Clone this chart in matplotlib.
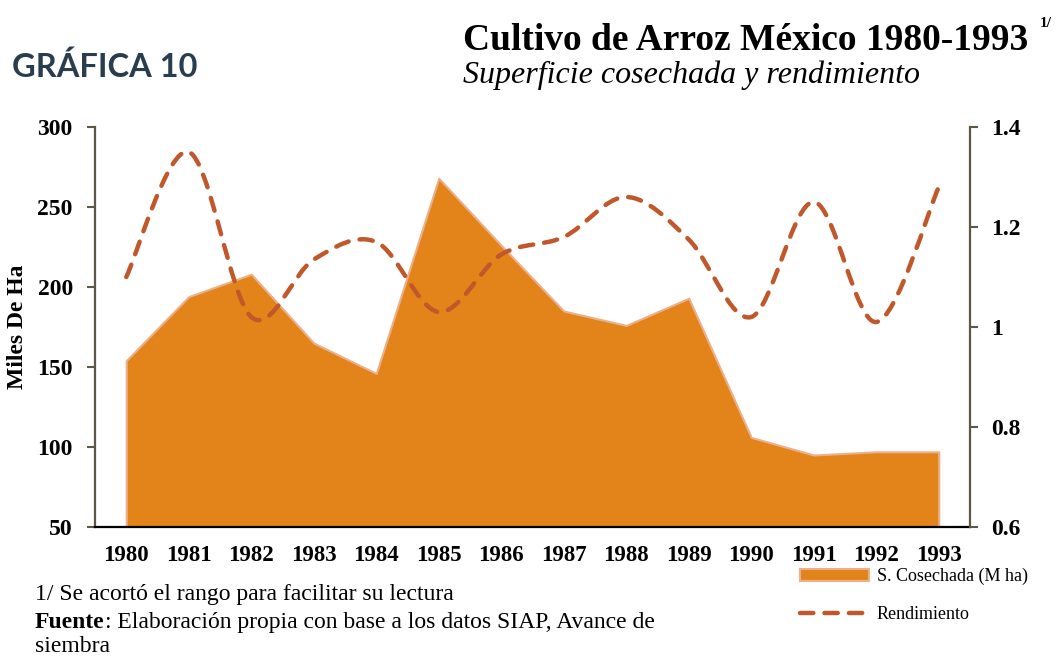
import matplotlib
matplotlib.use('Agg')
import matplotlib.pyplot as plt
from matplotlib.path import Path
from matplotlib.patches import PathPatch
from matplotlib.lines import Line2D
import numpy as np

# datos
years = ['1980', '1981', '1982', '1983', '1984', '1985', '1986',
         '1987', '1988', '1989', '1990', '1991', '1992', '1993']
superficie = [154, 194, 208, 165, 146, 268, 226, 185, 176, 193, 106, 95, 97, 97]
rendimiento = [1.10, 1.35, 1.02, 1.135, 1.17, 1.03, 1.145, 1.18, 1.26, 1.175,
               1.02, 1.25, 1.01, 1.28]

left_ticks = [50, 100, 150, 200, 250, 300]
right_ticks = [0.6, 0.8, 1.0, 1.2, 1.4]
right_labels = ['0.6', '0.8', '1', '1.2', '1.4']

AREA = '#E3841A'
AREA_EDGE = '#EBB08C'
LINE = '#C0582B'
SPINE = '#5E5646'
SERIF = 'Liberation Serif'
DASH = (0, (3.0, 2.5))


def smooth_path(xs, ys):
    # linea suavizada tipo Excel (bezier por los puntos)
    pts = np.column_stack([xs, ys]).astype(float)
    n = len(pts)
    verts = [pts[0]]
    codes = [Path.MOVETO]
    for i in range(n - 1):
        p0 = pts[max(i - 1, 0)]
        p1 = pts[i]
        p2 = pts[i + 1]
        p3 = pts[min(i + 2, n - 1)]
        verts += [p1 + (p2 - p0) / 6.0, p2 - (p3 - p1) / 6.0, p2]
        codes += [Path.CURVE4] * 3
    return Path(verts, codes)


fig = plt.figure(figsize=(10.57, 6.56), dpi=100)
ax = fig.add_axes([95 / 1057, 1 - 527 / 656, 875 / 1057, 400 / 656])
ax2 = ax.twinx()

x = np.arange(len(years))
area = ax.fill_between(x, 0, superficie, facecolor=AREA, edgecolor=AREA_EDGE,
                       linewidth=1.5, label='S. Cosechada (M ha)', zorder=2)

path = smooth_path(x, rendimiento)
patch = PathPatch(path, fill=False, edgecolor=LINE, linewidth=3.2,
                  linestyle=DASH, capstyle='round', zorder=3)
ax2.add_patch(patch)

ax.set_xlim(-0.5, len(years) - 0.5)
ax.set_ylim(50, 300)
ax2.set_ylim(0.6, 1.4)

ax.set_xticks(x)
ax.set_xticklabels(years, fontfamily=SERIF, fontweight='bold', fontsize=16.5)
ax.set_yticks(left_ticks)
ax.set_yticklabels([str(v) for v in left_ticks], fontfamily=SERIF,
                   fontweight='bold', fontsize=17)
ax2.set_yticks(right_ticks)
ax2.set_yticklabels(right_labels, fontfamily=SERIF, fontweight='bold', fontsize=17)

ax.tick_params(axis='x', length=0, pad=13)
ax.tick_params(axis='y', length=6, width=1.5, color=SPINE, pad=10, direction='out')
ax2.tick_params(axis='y', length=6, width=1.5, color=SPINE, pad=9, direction='out')

for a in (ax, ax2):
    a.spines['top'].set_visible(False)
ax.spines['right'].set_visible(False)
ax2.spines['left'].set_visible(False)
ax2.spines['bottom'].set_visible(False)
ax.spines['left'].set_color(SPINE)
ax.spines['left'].set_linewidth(1.6)
ax2.spines['right'].set_color(SPINE)
ax2.spines['right'].set_linewidth(1.6)
ax.spines['bottom'].set_color('black')
ax.spines['bottom'].set_linewidth(1.6)

ax.set_ylabel('Miles De Ha', fontfamily=SERIF, fontweight='bold', fontsize=17,
              va='center')
ax.yaxis.set_label_coords(-0.088, 0.5)

# titulos
fig.text(12 / 1057, 1 - 77 / 656, 'GRÁFICA 10', fontfamily='Lato',
         fontweight='bold', fontsize=23.5, color='#2A3D4F', va='baseline')
fig.text(463 / 1057, 1 - 50 / 656, 'Cultivo de Arroz México 1980-1993',
         fontfamily=SERIF, fontweight='bold', fontsize=27, va='baseline')
fig.text(1040 / 1057, 1 - 27 / 656, '1/', fontfamily=SERIF, fontweight='bold',
         fontsize=11, va='baseline')
fig.text(463 / 1057, 1 - 83 / 656, 'Superficie cosechada y rendimiento',
         fontfamily=SERIF, fontstyle='italic', fontsize=23, va='baseline')

# notas
fig.text(35 / 1057, 1 - 600 / 656, '1/ Se acortó el rango para facilitar su lectura',
         fontfamily=SERIF, fontsize=17, va='baseline')
t_fuente = fig.text(35 / 1057, 1 - 628 / 656, 'Fuente', fontfamily=SERIF,
                    fontweight='bold', fontsize=17, va='baseline')
ax.annotate(': Elaboración propia con base a los datos SIAP, Avance de',
            xy=(1, 0), xycoords=t_fuente, va='bottom', ha='left',
            fontfamily=SERIF, fontsize=17, annotation_clip=False)
fig.text(35 / 1057, 1 - 652 / 656, 'siembra', fontfamily=SERIF, fontsize=17,
         va='baseline')

# leyenda
line_handle = Line2D([], [], color=LINE, linewidth=3.2, linestyle=DASH,
                     dash_capstyle='round')
fig.legend([area, line_handle], ['S. Cosechada (M ha)', 'Rendimiento'],
           loc='upper left', bbox_to_anchor=(800 / 1057, 1 - 568 / 656),
           frameon=False, prop={'family': SERIF, 'size': 13},
           handlelength=3.8, handletextpad=0.45, labelspacing=1.15,
           borderpad=0, borderaxespad=0)

fig.savefig('out.png', dpi=100)
